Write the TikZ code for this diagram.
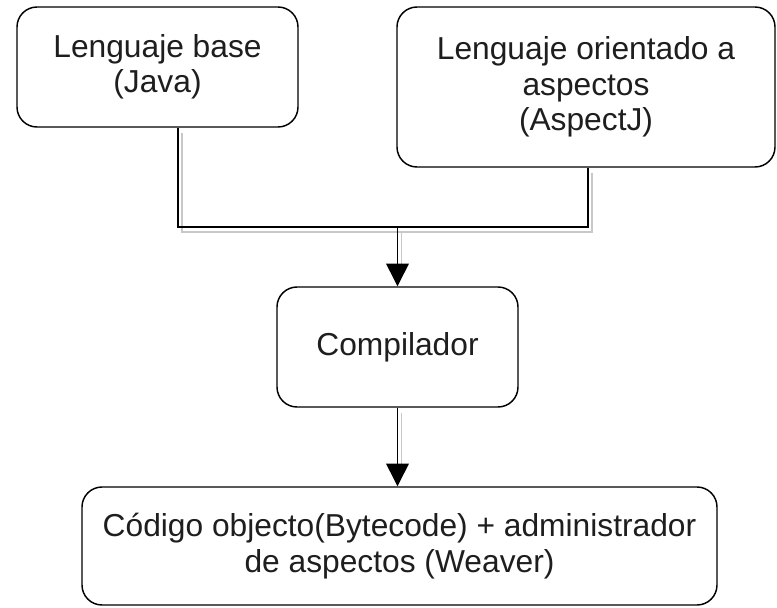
\documentclass[tikz,border=0pt]{standalone}
\usepackage{fontspec}
\setmainfont{Liberation Sans}
\usetikzlibrary{arrows.meta,calc}

\definecolor{inkline}{HTML}{000000}
\definecolor{inktext}{HTML}{1E1E1E}
\definecolor{shade}{HTML}{C8C8C8}

\tikzset{
  box/.style={draw=inkline, line width=1.1pt, rounded corners=15pt, fill=white,
    align=center, text=inktext, inner sep=0pt,
    font=\fontsize{23.8pt}{26.5pt}\selectfont},
  link/.style={draw=inkline, line width=1.1pt},
  linkshade/.style={draw=shade, line width=1.1pt},
  tip/.style={-{Triangle[width=17pt,length=17pt]}}
}

\begin{document}
\begin{tikzpicture}[x=0.75pt, y=-0.75pt]
  \useasboundingbox (0,0) rectangle (777,607);

  % nodes
  \node[box, minimum width=281*0.75pt, minimum height=120*0.75pt] (base) at (157.5,67)
    {Lenguaje base\\(Java)};
  \node[box, minimum width=378*0.75pt, minimum height=160*0.75pt] (aop) at (586,87)
    {Lenguaje orientado a\\aspectos\\(AspectJ)};
  \node[box, minimum width=241*0.75pt, minimum height=120*0.75pt] (comp) at (397.5,347)
    {Compilador};
  \node[box, minimum width=635*0.75pt, minimum height=118*0.75pt] (out) at (399.5,546)
    {Código objecto(Bytecode) + administrador\\de aspectos (Weaver)};

  % junction of the two source languages
  \coordinate (join) at (397.5,227);
  \coordinate (baseleg) at ($(base.south)+(20.5,0)$);
  \coordinate (aopleg) at ($(aop.south)+(2,0)$);

  % connector shadows, offset right and down
  \begin{scope}[transform canvas={shift={(3pt,-3.75pt)}}]
    \draw[linkshade] (baseleg) |- (join);
    \draw[linkshade] (aopleg) |- (join);
    \draw[linkshade] (join) -- ($(comp.north)+(0,-20)$);
    \draw[linkshade] (comp.south) -- ($(comp.south |- out.north)+(0,-20)$);
  \end{scope}

  % connectors
  \draw[link] (baseleg) |- (join);
  \draw[link] (aopleg) |- (join);
  \draw[link, tip] (join) -- (comp.north);
  \draw[link, tip] (comp.south) -- (comp.south |- out.north);
\end{tikzpicture}
\end{document}
